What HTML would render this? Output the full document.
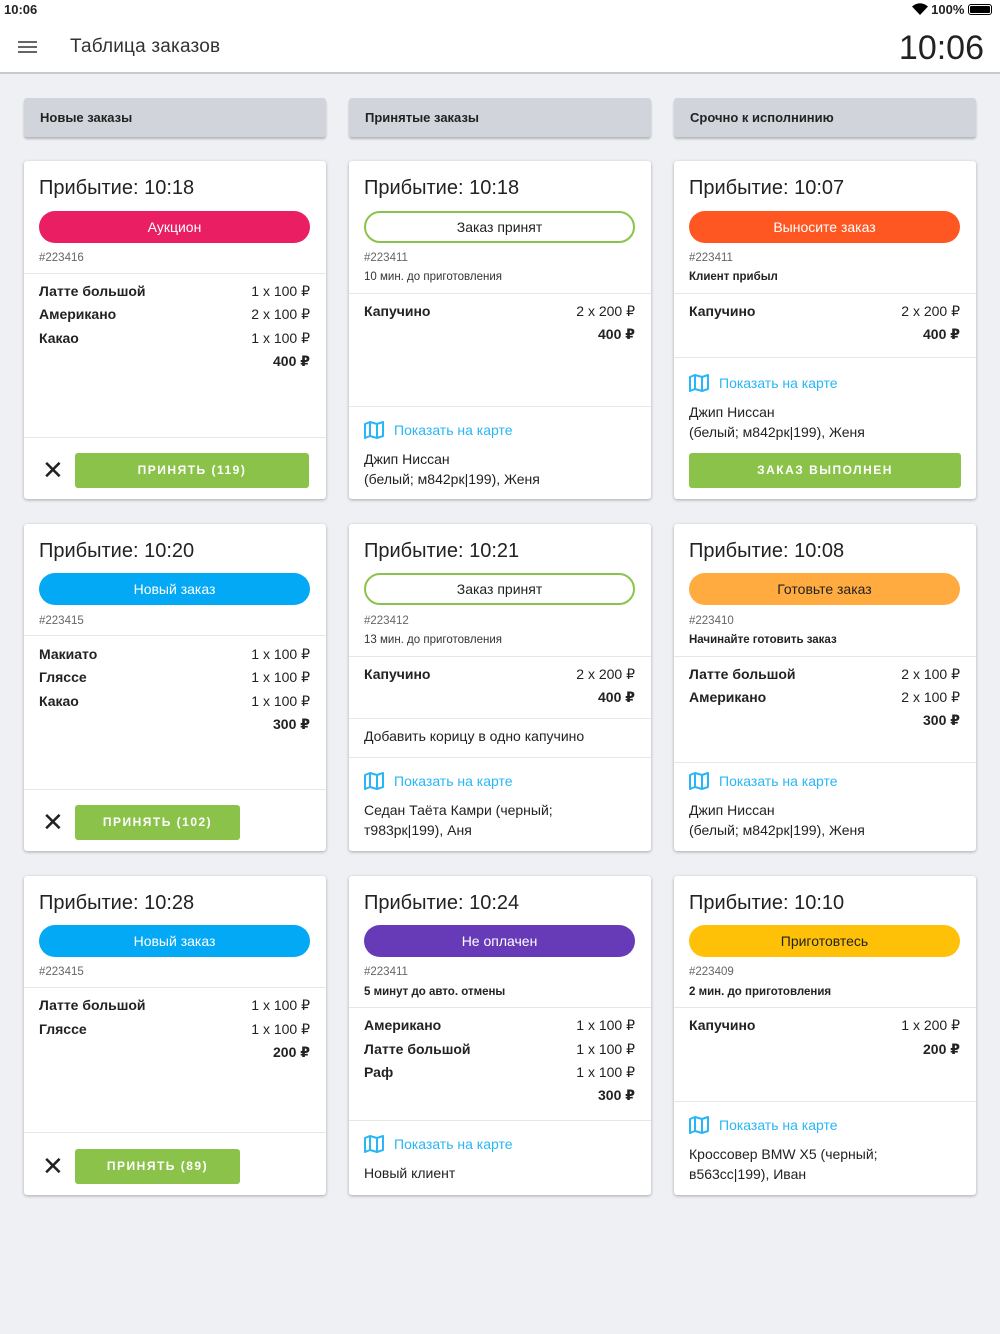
<!DOCTYPE html>
<html><head><meta charset="utf-8"><style>
*{margin:0;padding:0;box-sizing:border-box}
body{width:1000px;height:1334px;background:#eff0f4;font-family:"Liberation Sans","DejaVu Sans",sans-serif;color:#222;position:relative;overflow:hidden}
.a{position:absolute}
.top{left:0;top:0;width:1000px;height:74px;background:#fff;border-bottom:2px solid #c8c9cc}
.hdr{height:39px;background:#d1d5db;border-radius:3px;box-shadow:0 2px 2px rgba(0,0,0,.25);font-size:13px;font-weight:bold;line-height:39px;padding-left:16px;width:302px;top:98px}
.card{background:#fff;border-radius:3px;box-shadow:0 1px 3px rgba(0,0,0,.3);width:302px}
.t{position:absolute;line-height:20px;height:20px;white-space:nowrap}
.ti{left:15px;top:15px;font-size:20px;line-height:24px;height:24px}
.pill{position:absolute;left:15px;width:271px;height:32px;border-radius:16px;color:#fff;text-align:center;line-height:32px;font-size:14px;top:49px}
.id{left:15px;font-size:11.5px;color:#666}
.sub{left:15px;font-size:11.5px;font-weight:bold}
.dv{position:absolute;left:0;width:302px;height:1px;background:#e6e6e6}
.it{left:15px;font-size:14px;font-weight:bold}
.q{right:16px;font-size:14px}
.tot{right:16px;font-size:14px;font-weight:bold}
.map{left:15px;font-size:14px;color:#29b6f6}
.map svg{vertical-align:-4px;margin-right:10px}
.tx{left:15px;font-size:14px}
.btn{position:absolute;height:35px;background:#8bc34a;border-radius:3px;color:#fff;font-size:12px;font-weight:bold;letter-spacing:1.5px;text-align:center;line-height:35px}
.x{position:absolute;left:18px;font-size:26px;line-height:20px}
</style></head><body>
<div class="a top"></div>
<div class="a" style="left:4px;top:2px;font-size:13px;font-weight:bold">10:06</div>
<div class="a" style="right:8px;top:2px;font-size:13px;font-weight:bold">
<svg width="16" height="12" viewBox="0 0 16 12" style="vertical-align:-1px"><path d="M8 12L0 3.5Q8-3 16 3.5Z" fill="#000"/></svg> 100% <span style="display:inline-block;width:24px;height:11px;border:1px solid #000;border-radius:3px;padding:1px;vertical-align:-1px"><span style="display:block;width:100%;height:100%;background:#000;border-radius:1px"></span></span></div>
<div class="a" style="left:18px;top:41px;width:19px;height:2px;background:#666;box-shadow:0 5px 0 #666,0 10px 0 #666"></div>
<div class="a" style="left:70px;top:36px;font-size:19px;color:#333;letter-spacing:0.2px">Таблица заказов</div>
<div class="a" style="right:16px;top:29px;font-size:34px;color:#222">10:06</div>

<div class="a hdr" style="left:24px">Новые заказы</div>
<div class="a hdr" style="left:349px">Принятые заказы</div>
<div class="a hdr" style="left:674px">Срочно к исполнинию</div>

<div class="a card" style="left:24px;top:161px;height:338px">
<div class="t ti">Прибытие: 10:18</div>
<div class="pill" style="background:#e91e63;top:50px">Аукцион</div>
<div class="t id" style="top:87px">#223416</div>
<div class="dv" style="top:112px"></div>
<div class="t it" style="top:120px">Латте большой</div><div class="t q" style="top:120px">1 x 100 ₽</div>
<div class="t it" style="top:143px">Американо</div><div class="t q" style="top:143px">2 x 100 ₽</div>
<div class="t it" style="top:167px">Какао</div><div class="t q" style="top:167px">1 x 100 ₽</div>
<div class="t tot" style="top:190px">400 ₽</div>
<div class="dv" style="top:276px"></div>
<div class="x" style="top:299px">✕</div>
<div class="btn" style="left:51px;top:292px;width:234px">ПРИНЯТЬ (119)</div>
</div>
<div class="a card" style="left:24px;top:524px;height:327px">
<div class="t ti">Прибытие: 10:20</div>
<div class="pill" style="background:#03a9f4">Новый заказ</div>
<div class="t id" style="top:87px">#223415</div>
<div class="dv" style="top:111px"></div>
<div class="t it" style="top:120px">Макиато</div><div class="t q" style="top:120px">1 x 100 ₽</div>
<div class="t it" style="top:143px">Гляссе</div><div class="t q" style="top:143px">1 x 100 ₽</div>
<div class="t it" style="top:167px">Какао</div><div class="t q" style="top:167px">1 x 100 ₽</div>
<div class="t tot" style="top:190px">300 ₽</div>
<div class="dv" style="top:265px"></div>
<div class="x" style="top:288px">✕</div>
<div class="btn" style="left:51px;top:281px;width:165px">ПРИНЯТЬ (102)</div>
</div>
<div class="a card" style="left:24px;top:876px;height:319px">
<div class="t ti">Прибытие: 10:28</div>
<div class="pill" style="background:#03a9f4">Новый заказ</div>
<div class="t id" style="top:86px">#223415</div>
<div class="dv" style="top:111px"></div>
<div class="t it" style="top:119px">Латте большой</div><div class="t q" style="top:119px">1 x 100 ₽</div>
<div class="t it" style="top:143px">Гляссе</div><div class="t q" style="top:143px">1 x 100 ₽</div>
<div class="t tot" style="top:166px">200 ₽</div>
<div class="dv" style="top:256px"></div>
<div class="x" style="top:280px">✕</div>
<div class="btn" style="left:51px;top:273px;width:165px">ПРИНЯТЬ (89)</div>
</div>

<div class="a card" style="left:349px;top:161px;height:338px">
<div class="t ti">Прибытие: 10:18</div>
<div class="pill" style="background:#fff;color:#222;border:2px solid #8bc34a;line-height:28px;top:50px">Заказ принят</div>
<div class="t id" style="top:87px">#223411</div>
<div class="t id" style="top:106px;color:#333">10 мин. до приготовления</div>
<div class="dv" style="top:132px"></div>
<div class="t it" style="top:140px">Капучино</div><div class="t q" style="top:140px">2 x 200 ₽</div>
<div class="t tot" style="top:163px">400 ₽</div>
<div class="dv" style="top:245px"></div>
<div class="t map" style="top:259px"><svg width="20" height="18" viewBox="0 0 20 18"><path d="M1 3L6 1L13 3L19 1V15L13 17L6 15L1 17Z M6 1V15 M13 3V17" fill="none" stroke="#29b6f6" stroke-width="2" stroke-linejoin="round"/></svg>Показать на карте</div>
<div class="t tx" style="top:288px">Джип Ниссан</div>
<div class="t tx" style="top:308px">(белый; м842рк|199), Женя</div>
</div>
<div class="a card" style="left:349px;top:524px;height:327px">
<div class="t ti">Прибытие: 10:21</div>
<div class="pill" style="background:#fff;color:#222;border:2px solid #8bc34a;line-height:28px">Заказ принят</div>
<div class="t id" style="top:87px">#223412</div>
<div class="t id" style="top:106px;color:#333">13 мин. до приготовления</div>
<div class="dv" style="top:132px"></div>
<div class="t it" style="top:140px">Капучино</div><div class="t q" style="top:140px">2 x 200 ₽</div>
<div class="t tot" style="top:163px">400 ₽</div>
<div class="dv" style="top:194px"></div>
<div class="t tx" style="top:202px">Добавить корицу в одно капучино</div>
<div class="dv" style="top:233px"></div>
<div class="t map" style="top:247px"><svg width="20" height="18" viewBox="0 0 20 18"><path d="M1 3L6 1L13 3L19 1V15L13 17L6 15L1 17Z M6 1V15 M13 3V17" fill="none" stroke="#29b6f6" stroke-width="2" stroke-linejoin="round"/></svg>Показать на карте</div>
<div class="t tx" style="top:276px">Седан Таёта Камри (черный;</div>
<div class="t tx" style="top:296px">т983рк|199), Аня</div>
</div>
<div class="a card" style="left:349px;top:876px;height:319px">
<div class="t ti">Прибытие: 10:24</div>
<div class="pill" style="background:#673ab7">Не оплачен</div>
<div class="t id" style="top:86px">#223411</div>
<div class="t sub" style="top:106px">5 минут до авто. отмены</div>
<div class="dv" style="top:131px"></div>
<div class="t it" style="top:139px">Американо</div><div class="t q" style="top:139px">1 x 100 ₽</div>
<div class="t it" style="top:163px">Латте большой</div><div class="t q" style="top:163px">1 x 100 ₽</div>
<div class="t it" style="top:186px">Раф</div><div class="t q" style="top:186px">1 x 100 ₽</div>
<div class="t tot" style="top:209px">300 ₽</div>
<div class="dv" style="top:244px"></div>
<div class="t map" style="top:258px"><svg width="20" height="18" viewBox="0 0 20 18"><path d="M1 3L6 1L13 3L19 1V15L13 17L6 15L1 17Z M6 1V15 M13 3V17" fill="none" stroke="#29b6f6" stroke-width="2" stroke-linejoin="round"/></svg>Показать на карте</div>
<div class="t tx" style="top:287px">Новый клиент</div>
</div>

<div class="a card" style="left:674px;top:161px;height:338px">
<div class="t ti">Прибытие: 10:07</div>
<div class="pill" style="background:#ff5722;top:50px">Выносите заказ</div>
<div class="t id" style="top:87px">#223411</div>
<div class="t sub" style="top:106px">Клиент прибыл</div>
<div class="dv" style="top:132px"></div>
<div class="t it" style="top:140px">Капучино</div><div class="t q" style="top:140px">2 x 200 ₽</div>
<div class="t tot" style="top:163px">400 ₽</div>
<div class="dv" style="top:196px"></div>
<div class="t map" style="top:212px"><svg width="20" height="18" viewBox="0 0 20 18"><path d="M1 3L6 1L13 3L19 1V15L13 17L6 15L1 17Z M6 1V15 M13 3V17" fill="none" stroke="#29b6f6" stroke-width="2" stroke-linejoin="round"/></svg>Показать на карте</div>
<div class="t tx" style="top:241px">Джип Ниссан</div>
<div class="t tx" style="top:261px">(белый; м842рк|199), Женя</div>
<div class="btn" style="left:15px;top:292px;width:272px">ЗАКАЗ ВЫПОЛНЕН</div>
</div>
<div class="a card" style="left:674px;top:524px;height:327px">
<div class="t ti">Прибытие: 10:08</div>
<div class="pill" style="background:#ffab40;color:#222">Готовьте заказ</div>
<div class="t id" style="top:87px">#223410</div>
<div class="t sub" style="top:106px">Начинайте готовить заказ</div>
<div class="dv" style="top:132px"></div>
<div class="t it" style="top:140px">Латте большой</div><div class="t q" style="top:140px">2 x 100 ₽</div>
<div class="t it" style="top:163px">Американо</div><div class="t q" style="top:163px">2 x 100 ₽</div>
<div class="t tot" style="top:186px">300 ₽</div>
<div class="dv" style="top:238px"></div>
<div class="t map" style="top:247px"><svg width="20" height="18" viewBox="0 0 20 18"><path d="M1 3L6 1L13 3L19 1V15L13 17L6 15L1 17Z M6 1V15 M13 3V17" fill="none" stroke="#29b6f6" stroke-width="2" stroke-linejoin="round"/></svg>Показать на карте</div>
<div class="t tx" style="top:276px">Джип Ниссан</div>
<div class="t tx" style="top:296px">(белый; м842рк|199), Женя</div>
</div>
<div class="a card" style="left:674px;top:876px;height:319px">
<div class="t ti">Прибытие: 10:10</div>
<div class="pill" style="background:#ffc107;color:#222">Приготовтесь</div>
<div class="t id" style="top:86px">#223409</div>
<div class="t sub" style="top:106px">2 мин. до приготовления</div>
<div class="dv" style="top:131px"></div>
<div class="t it" style="top:139px">Капучино</div><div class="t q" style="top:139px">1 x 200 ₽</div>
<div class="t tot" style="top:163px">200 ₽</div>
<div class="dv" style="top:225px"></div>
<div class="t map" style="top:239px"><svg width="20" height="18" viewBox="0 0 20 18"><path d="M1 3L6 1L13 3L19 1V15L13 17L6 15L1 17Z M6 1V15 M13 3V17" fill="none" stroke="#29b6f6" stroke-width="2" stroke-linejoin="round"/></svg>Показать на карте</div>
<div class="t tx" style="top:268px">Кроссовер BMW X5 (черный;</div>
<div class="t tx" style="top:288px">в563сс|199), Иван</div>
</div>
</body></html>
